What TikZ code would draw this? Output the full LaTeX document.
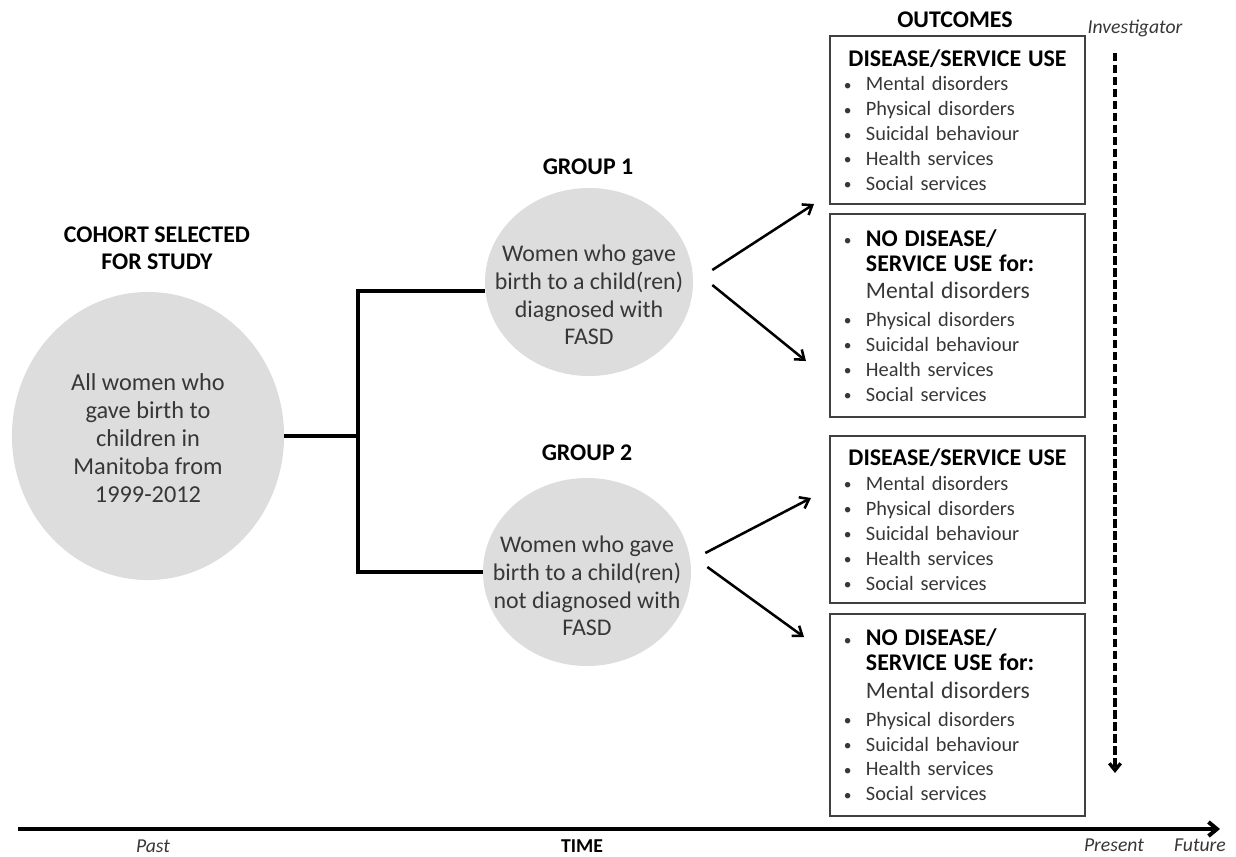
\documentclass[tikz,border=0pt]{standalone}
\usepackage{fontspec}
\setmainfont{Carlito}
\usetikzlibrary{shapes.geometric,arrows.meta}
\definecolor{discgray}{RGB}{221,221,221}
\definecolor{txtgray}{RGB}{55,55,55}
\setlength\parindent{0pt}
\newcommand\itm{\makebox[14.2pt][l]{\hspace{-1.5pt}\raisebox{0.5pt}{\fontsize{11}{11}\selectfont\textbullet}}}
\newcommand\ind{\hspace*{14.2pt}}
\newcommand\ttl{\fontsize{17}{17.7}\selectfont\bfseries\color{black}}
\newcommand\bigtxt{\fontsize{16.8}{17.7}\selectfont}
\newcommand\ctitle[1]{\makebox[5.575cm]{#1}}
\begin{document}
\begin{tikzpicture}[x=0.025cm,y=-0.025cm]
            \tikzstyle{disc}=[ellipse,fill=discgray,inner sep=0pt]
            \tikzstyle{disctext}=[align=center,text=txtgray,font=\fontsize{17}{19.6}\selectfont]
            \tikzstyle{head}=[align=center,font=\fontsize{17}{19}\selectfont\bfseries]
            \tikzstyle{outbox}=[draw=black!75,line width=1.4pt,minimum width=6.375cm,text width=5.575cm,inner xsep=0.4cm,inner ysep=0pt,align=left,text=txtgray,font=\fontsize{14.5}{17.7}\selectfont]
            \tikzstyle{link}=[line width=2.4pt]
            \tikzstyle{edge}=[-{Straight Barb[length=6pt,width=9pt]},line width=1.8pt]
            \tikzstyle{invline}=[-{Straight Barb[length=5pt,width=8pt]},line width=2.4pt,dash pattern=on 6pt off 2.5pt]
            \tikzstyle{axis}=[-{Straight Barb[length=6pt,width=10pt]},line width=2.8pt]
            \tikzstyle{tlabel}=[font=\fontsize{14}{17}\selectfont\itshape,text=txtgray]
            \useasboundingbox (0,0) rectangle (1236,856);
            \node[head] (hc) at (157,248) {COHORT SELECTED\\FOR STUDY};
            \node[disc,minimum width=6.8cm,minimum height=7.2cm] (c0) at (148,436) {};
            \node[disctext,font=\fontsize{17.3}{20}\selectfont] (c0t) at (148,438) {All women who\\gave birth to\\children in\\Manitoba from\\1999-2012};
            \node[head] (h1) at (588,167) {GROUP 1};
            \node[disc,minimum width=5.2cm,minimum height=4.7cm] (g1) at (589,282) {};
            \node[disctext] (g1t) at (589,295) {Women who gave\\birth to a child(ren)\\diagnosed with\\FASD};
            \node[head] (h2) at (587,453) {GROUP 2};
            \node[disc,minimum width=5.2cm,minimum height=4.7cm] (g2) at (587,572) {};
            \node[disctext] (g2t) at (587,586) {Women who gave\\birth to a child(ren)\\not diagnosed with\\FASD};
            \coordinate (br) at (358,436);
            \draw[link] (c0.east) -- (br);
            \draw[link] (g1.185) -| (br) |- (g2.west);
            \node[head] (ho) at (955,20) {OUTCOMES};
            \node[outbox,minimum height=4.2cm] (b1) at (957.5,120) {\ctitle{\ttl DISEASE/SERVICE USE}\\ \itm Mental disorders\\ \itm Physical disorders\\ \itm Suicidal behaviour\\ \itm Health services\\ \itm Social services};
            \node[outbox,minimum height=5.075cm] (b2) at (957.5,315.5) {\itm{\ttl NO DISEASE/}\\ \ind{\ttl SERVICE USE for:}\\[2pt] \ind{\bigtxt Mental disorders}\\[2pt] \itm Physical disorders\\ \itm Suicidal behaviour\\ \itm Health services\\ \itm Social services};
            \node[outbox,minimum height=4.175cm] (b3) at (957.5,519.5) {\ctitle{\ttl DISEASE/SERVICE USE}\\ \itm Mental disorders\\ \itm Physical disorders\\ \itm Suicidal behaviour\\ \itm Health services\\ \itm Social services};
            \node[outbox,minimum height=5.05cm] (b4) at (957.5,715) {\itm{\ttl NO DISEASE/}\\ \ind{\ttl SERVICE USE for:}\\[2pt] \ind{\bigtxt Mental disorders}\\[2pt] \itm Physical disorders\\ \itm Suicidal behaviour\\ \itm Health services\\ \itm Social services};
            \draw[edge] ([shift={(19,-12)}]g1.east) -- ([shift={(-15,-1)}]b1.south west);
            \draw[edge] ([shift={(19,3)}]g1.east) -- ([shift={(-23,-57)}]b2.south west);
            \draw[edge] ([shift={(14,-19)}]g2.east) -- ([shift={(-18,-21.5)}]b3.west);
            \draw[edge] ([shift={(16,-5)}]g2.east) -- ([shift={(-25,24)}]b4.north west);
            \node[tlabel] (inv) at (1135,28) {Investigator};
            \coordinate (inv0) at (1115,53);
            \coordinate (inv1) at (1115,773);
            \draw[invline] (inv0) -- (inv1);
            \coordinate (t0) at (18,829);
            \coordinate (t1) at (1220,829);
            \draw[axis] (t0) -- (t1);
            \node[tlabel] (past) at (153,846) {Past};
            \node[font=\fontsize{14}{17}\selectfont\bfseries] (time) at (582,846) {TIME};
            \node[tlabel] (pres) at (1114,845) {Present};
            \node[tlabel] (fut) at (1200,845) {Future};
        \end{tikzpicture}
\end{document}
